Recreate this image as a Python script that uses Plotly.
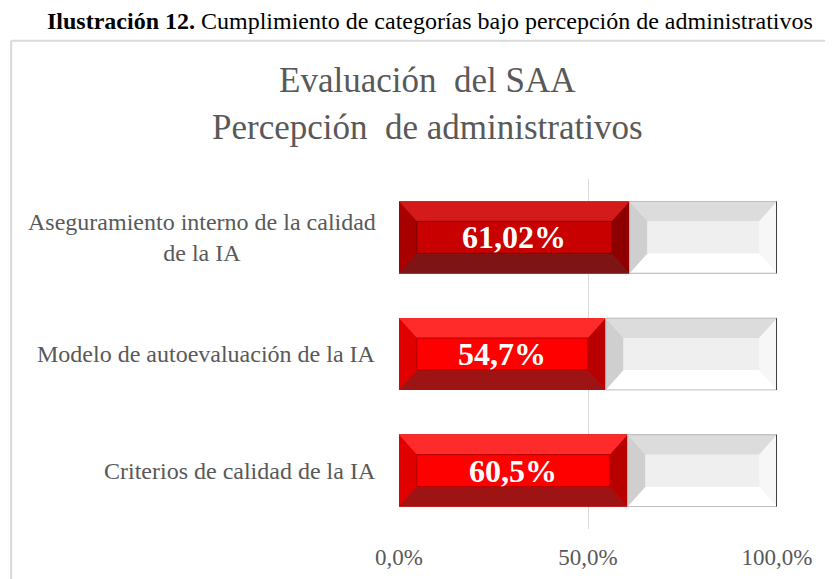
import plotly.graph_objects as go

# ---- data ----
categories = [
    "Aseguramiento interno de la calidad<br>de la IA",
    "Modelo de autoevaluación de la IA",
    "Criterios de calidad de la IA",
]
values = [61.02, 54.7, 60.5]
value_labels = ["61,02%", "54,7%", "60,5%"]
tick_vals = [0, 50, 100]
tick_text = ["0,0%", "50,0%", "100,0%"]
caption_bold = "Ilustración 12."
caption_rest = " Cumplimiento de categorías bajo percepción de administrativos"
title_lines = ["Evaluación\u00a0 del SAA", "Percepción\u00a0 de administrativos"]

remainder = [100 - v for v in values]
ypos = list(range(len(categories)))

# ---- styles ----
FONT = "Liberation Serif, Times New Roman, serif"
GRAY = "#595959"
BAR_W = 0.615
red_styles = [
    dict(base="#C00000", top="#D41A1A", left="#A80000", right="#8E0000", bottom="#7E1414", inner="#C80000", inner_line="#7A0000"),
    dict(base="#FF0000", top="#FF2A2A", left="#E00000", right="#B80000", bottom="#9E1414", inner="#FF0000", inner_line="#B00000"),
    dict(base="#FF0000", top="#FF2A2A", left="#E00000", right="#B80000", bottom="#9E1414", inner="#FF0000", inner_line="#B00000"),
]

fig = go.Figure()
fig.add_trace(go.Bar(
    y=ypos, x=values, orientation="h", width=BAR_W,
    marker=dict(color=[s["base"] for s in red_styles], line=dict(color="#E03030", width=1)),
    hoverinfo="skip", showlegend=False,
))
fig.add_trace(go.Bar(
    y=ypos, x=remainder, orientation="h", width=BAR_W,
    marker=dict(color="#F2F2F2", line=dict(color="#BFBFBF", width=1)),
    hoverinfo="skip", showlegend=False,
))

shapes = []
half = BAR_W / 2
ih = 0.137  # inner half height (category units)
dx = 4.7    # bevel inset (data units)


def trap(points, color):
    path = "M " + " L ".join(f"{x},{y}" for x, y in points) + " Z"
    return dict(type="path", path=path, xref="x", yref="y", fillcolor=color,
                line=dict(width=0), layer="above")


for i, (v, s) in enumerate(zip(values, red_styles)):
    yt, yb = i - half, i + half
    it, ib = i - ih, i + ih
    # red bar bevel
    shapes.append(trap([(0, yt), (v, yt), (v - dx, it), (dx, it)], s["top"]))
    shapes.append(trap([(0, yb), (v, yb), (v - dx, ib), (dx, ib)], s["bottom"]))
    shapes.append(trap([(0, yt), (dx, it), (dx, ib), (0, yb)], s["left"]))
    shapes.append(trap([(v, yt), (v - dx, it), (v - dx, ib), (v, yb)], s["right"]))
    shapes.append(dict(type="rect", xref="x", yref="y", x0=dx, x1=v - dx, y0=it, y1=ib,
                       fillcolor=s["inner"], line=dict(color=s["inner_line"], width=1), layer="above"))
    # white bar bevel
    w0, w1 = v, 100
    shapes.append(trap([(w0, yt), (w1, yt), (w1 - dx, it), (w0 + dx, it)], "#DCDCDC"))
    shapes.append(trap([(w0, yb), (w1, yb), (w1 - dx, ib), (w0 + dx, ib)], "#FFFFFF"))
    shapes.append(trap([(w0, yt), (w0 + dx, it), (w0 + dx, ib), (w0, yb)], "#CFCFCF"))
    shapes.append(trap([(w1, yt), (w1 - dx, it), (w1 - dx, ib), (w1, yb)], "#F7F7F7"))
    shapes.append(dict(type="rect", xref="x", yref="y", x0=w0 + dx, x1=w1 - dx, y0=it, y1=ib,
                       fillcolor="#EFEFEF", line=dict(width=0), layer="above"))
    shapes.append(dict(type="rect", xref="x", yref="y", x0=w0, x1=w1, y0=yt, y1=yb,
                       fillcolor="rgba(0,0,0,0)", line=dict(color="#BFBFBF", width=1), layer="above"))
    shapes.append(dict(type="line", xref="x", yref="y", x0=w1, x1=w1, y0=yt, y1=yb,
                       line=dict(color="#404040", width=2), layer="above"))

# chart frame (cut off at right/bottom as in the reference)
shapes.append(dict(type="line", xref="paper", yref="paper", x0=-1.026, x1=1.2, y0=1.395, y1=1.395,
                   line=dict(color="#D9D9D9", width=2)))
shapes.append(dict(type="line", xref="paper", yref="paper", x0=-1.026, x1=-1.026, y0=-0.2, y1=1.395,
                   line=dict(color="#D9D9D9", width=2)))

annotations = []
for i, (v, lab) in enumerate(zip(values, value_labels)):
    annotations.append(dict(x=v / 2, y=i, xref="x", yref="y", text=f"<b>{lab}</b>", showarrow=False,
                            xanchor="center", font=dict(family=FONT, size=32, color="white")))
for i, c in enumerate(categories):
    annotations.append(dict(x=-0.055, y=i, xref="paper", yref="y", text=c, showarrow=False,
                            xanchor="right", align="center",
                            font=dict(family=FONT, size=24, color=GRAY)))
annotations.append(dict(x=0.0767, y=1.2806, xref="paper", yref="paper", text=title_lines[0],
                        showarrow=False, xanchor="center", yanchor="middle",
                        font=dict(family=FONT, size=35, color=GRAY)))
annotations.append(dict(x=0.0767, y=1.1467, xref="paper", yref="paper", text=title_lines[1],
                        showarrow=False, xanchor="center", yanchor="middle",
                        font=dict(family=FONT, size=35, color=GRAY)))
annotations.append(dict(x=0.0807, y=1.451, xref="paper", yref="paper",
                        text=f"<b>{caption_bold}</b>{caption_rest}",
                        showarrow=False, xanchor="center", yanchor="middle",
                        font=dict(family=FONT, size=24, color="black")))

# page body has an 8px margin: size the figure so the plot lands where the reference has it
fig.update_layout(
    width=825, height=571,
    margin=dict(l=391, r=56, t=170.5, b=49.5),
    barmode="stack", bargap=0.385,
    plot_bgcolor="white", paper_bgcolor="white",
    shapes=shapes, annotations=annotations,
    xaxis=dict(range=[0, 100], tickvals=tick_vals, ticktext=tick_text, showgrid=True,
               gridcolor="#D9D9D9", gridwidth=1, zeroline=False, showline=False,
               tickfont=dict(family=FONT, size=23, color=GRAY), ticklabelstandoff=12,
               automargin=False, fixedrange=True),
    yaxis=dict(range=[len(categories) - 0.5, -0.5], showticklabels=False, showgrid=False,
               zeroline=False, showline=False, automargin=False, fixedrange=True),
)

fig.write_html("out.html")
